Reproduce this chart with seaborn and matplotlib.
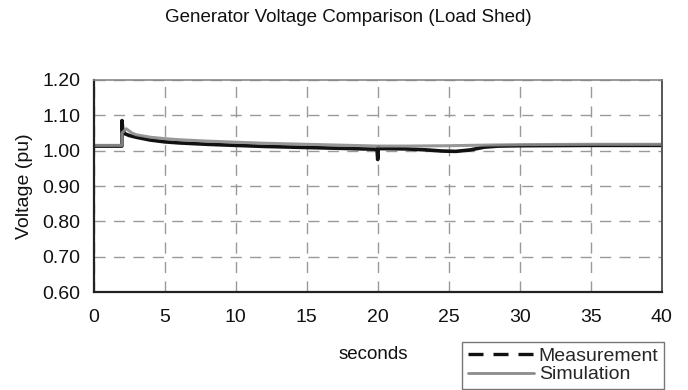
import numpy as np
import pandas as pd
import matplotlib
matplotlib.use("Agg")
import matplotlib.pyplot as plt
import seaborn as sns
from matplotlib.lines import Line2D

# Data
meas_t = [0, 1.99, 2.0, 2.05, 2.2, 2.5, 3, 4, 5, 6, 8, 10, 12, 15, 18, 19.95, 20.0, 20.05, 20.15, 22, 23.5, 24.5, 25.5, 26.5, 27.5, 28.5, 30, 35, 40]
meas_v = [1.013, 1.013, 1.085, 1.06, 1.048, 1.043, 1.038, 1.030, 1.025, 1.022, 1.018, 1.015, 1.012, 1.009, 1.006, 1.004, 0.975, 1.010, 1.006, 1.005, 1.002, 0.999, 0.998, 1.002, 1.010, 1.013, 1.014, 1.015, 1.015]
sim_t = [0, 1.99, 2.0, 2.3, 2.7, 3, 4, 5, 6, 8, 10, 12, 15, 18, 20, 22, 25, 28, 30, 35, 40]
sim_v = [1.015, 1.015, 1.050, 1.062, 1.050, 1.045, 1.038, 1.034, 1.031, 1.027, 1.024, 1.021, 1.018, 1.015, 1.013, 1.013, 1.014, 1.016, 1.017, 1.018, 1.018]
x_ticks = [0, 5, 10, 15, 20, 25, 30, 35, 40]
y_ticks = [0.60, 0.70, 0.80, 0.90, 1.00, 1.10, 1.20]

sns.set_theme(style="white")
plt.rcParams['font.family'] = ['Liberation Sans', 'DejaVu Sans']

fig = plt.figure(figsize=(6.88, 3.90), dpi=100)
ax = fig.add_axes([0.136, 0.251, 0.826, 0.544])

df_m = pd.DataFrame({"t": meas_t, "v": meas_v})
df_s = pd.DataFrame({"t": sim_t, "v": sim_v})
sns.lineplot(data=df_m, x="t", y="v", ax=ax, color="#111111", linewidth=2.6, estimator=None)
sns.lineplot(data=df_s, x="t", y="v", ax=ax, color="#8c8c8c", linewidth=2.2, estimator=None, alpha=0.9)

ax.set_xlim(0, 40)
ax.set_ylim(0.60, 1.20)
ax.set_xticks(x_ticks)
ax.set_yticks(y_ticks)
ax.set_yticklabels([f"{v:.2f}" for v in y_ticks])
ax.set_xticklabels([str(v) for v in x_ticks])
ax.grid(True, linestyle=(0, (8, 6)), color="#999999", linewidth=1.0)
ax.set_axisbelow(True)
ax.tick_params(axis="both", direction="out", width=1, colors="#222222", labelsize=14)
ax.tick_params(axis="x", length=4, pad=8)
ax.tick_params(axis="y", length=4.5, pad=5)
for lab in ax.get_xticklabels() + ax.get_yticklabels():
    lab.set_color("#111111")
for side in ["left", "bottom"]:
    ax.spines[side].set_color("#222222")
    ax.spines[side].set_linewidth(1.6)
ax.spines["top"].set_color("#888888")
ax.spines["top"].set_linewidth(1.2)
ax.spines["right"].set_color("#555555")
ax.spines["right"].set_linewidth(1.4)

ax.set_xlabel("seconds", fontsize=13.5, color="#111111")
ax.xaxis.set_label_coords(0.492, -0.255)
ax.set_ylabel("Voltage (pu)", fontsize=14, color="#111111")
ax.yaxis.set_label_coords(-0.106, 0.5)
fig.text(0.506, 0.954, "Generator Voltage Comparison (Load Shed)", ha="center", va="center", fontsize=13.5, color="#111111")

handles = [Line2D([0], [0], color="#111111", linestyle=(0, (4.5, 3.0)), linewidth=2.4),
           Line2D([0], [0], color="#8c8c8c", linewidth=2.0)]
leg = fig.legend(handles, ["Measurement", "Simulation"], loc="lower right",
                 bbox_to_anchor=(0.965, 0.003), frameon=True, fancybox=False,
                 fontsize=14, handlelength=3.4, handletextpad=0.25, borderpad=0.28,
                 labelspacing=0.03, borderaxespad=0.0)
leg.get_frame().set_edgecolor("#555555")
leg.get_frame().set_linewidth(1.0)

fig.savefig("out.png", dpi=100)
